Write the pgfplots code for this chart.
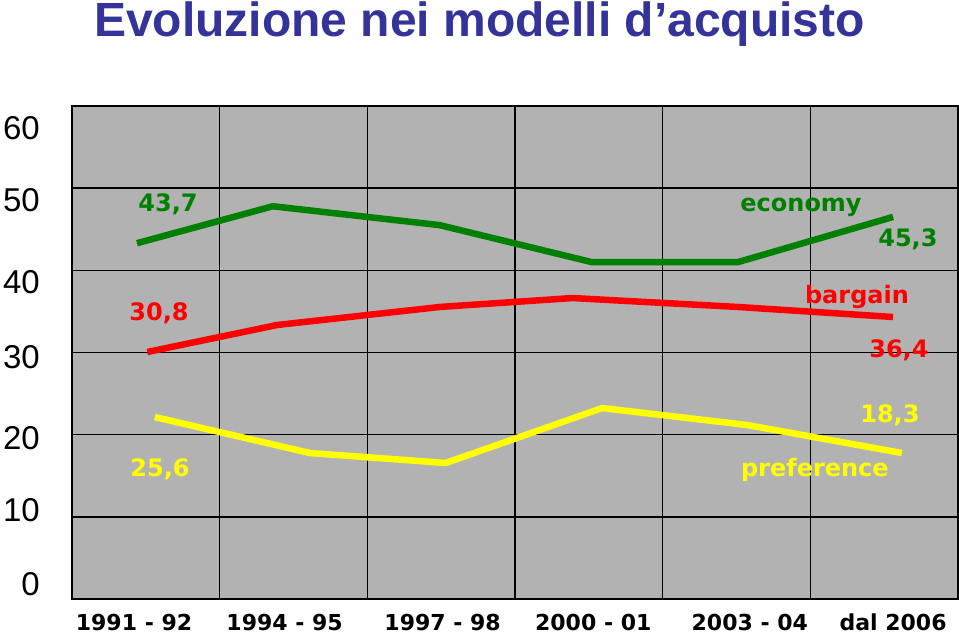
\documentclass[border=0pt]{standalone}
\usepackage{pgfplots}
\pgfplotsset{compat=1.18}
\usepackage{fontspec}
\setmainfont{DejaVu Sans}
\newfontfamily\arialfont{Liberation Sans}
\usepackage{graphicx}
\definecolor{bggray}{RGB}{178,178,178}
\definecolor{ecogreen}{RGB}{0,128,0}
\definecolor{bargred}{RGB}{255,0,0}
\definecolor{prefyellow}{RGB}{255,255,0}
\definecolor{titleblue}{RGB}{51,51,153}
\newcommand{\lbl}{\bfseries\fontsize{24bp}{28bp}\selectfont}
\begin{document}
\begin{tikzpicture}
\begin{axis}[
  at={(0,0)}, anchor=south west,
  scale only axis, width=886bp, height=493bp,
  xmin=0, xmax=6, ymin=0, ymax=60,
  axis background/.style={fill=bggray},
  axis line style={black, line width=1.6bp},
  xtick={0.42,1.44,2.51,3.53,4.59,5.56},
  xticklabels={1991 - 92,1994 - 95,1997 - 98,2000 - 01,2003 - 04,dal 2006},
  minor xtick={1,2,3,4,5},
  ytick={1.83,10.8,19.6,29.45,38.6,48.6,57.3},
  yticklabels={0,10,20,30,40,50,60},
  minor ytick={10,20,30,40,50},
  grid=minor,
  minor grid style={black, line width=1.6bp},
  major tick length=0pt, minor tick length=0pt,
  tick style={draw=none},
  xticklabel style={font=\bfseries\fontsize{22bp}{26bp}\selectfont, anchor=base, inner sep=0pt, yshift=-31bp, text=black},
  yticklabel style={font=\arialfont\fontsize{33bp}{38bp}\selectfont, anchor=east, inner sep=0pt, xshift=-32bp, text=black},
  clip=false,
]
\addplot[ecogreen, line width=6.5bp, line join=round] coordinates {
 (0.44,43.3) (1.36,47.8) (2.49,45.5) (3.52,41.0) (4.51,41.0) (5.56,46.5)};
\addplot[bargred, line width=6.5bp, line join=round] coordinates {
 (0.51,30.06) (1.39,33.35) (2.49,35.54) (3.39,36.63) (4.51,35.54) (5.56,34.32)};
\addplot[prefyellow, line width=6.5bp, line join=round] coordinates {
 (0.56,22.15) (1.61,17.77) (2.53,16.55) (3.59,23.24) (4.57,21.18) (5.62,17.77)};
\node[anchor=base, text=ecogreen, font=\lbl, inner sep=0pt] at (axis cs:0.650,47.22) {43,7};
\node[anchor=base, text=bargred, font=\lbl, inner sep=0pt] at (axis cs:0.589,33.95) {30,8};
\node[anchor=base, text=prefyellow, font=\lbl, inner sep=0pt] at (axis cs:0.596,14.85) {25,6};
\node[anchor=base, text=ecogreen, font=\lbl, inner sep=0pt] at (axis cs:4.937,47.10) {economy};
\node[anchor=base, text=ecogreen, font=\lbl, inner sep=0pt] at (axis cs:5.661,42.84) {45,3};
\node[anchor=base, text=bargred, font=\lbl, inner sep=0pt] at (axis cs:5.316,36.02) {bargain};
\node[anchor=base, text=bargred, font=\lbl, inner sep=0pt] at (axis cs:5.600,29.45) {36,4};
\node[anchor=base, text=prefyellow, font=\lbl, inner sep=0pt] at (axis cs:5.539,21.42) {18,3};
\node[anchor=base, text=prefyellow, font=\lbl, inner sep=0pt] at (axis cs:5.031,14.85) {preference};
\end{axis}
\node[anchor=base, inner sep=0pt, text=titleblue, font=\arialfont\bfseries\fontsize{48bp}{56bp}\selectfont] at (407.5bp,562bp) {Evoluzione nei modelli d’acquisto};
\pgfresetboundingbox
\path[use as bounding box] (-72bp,-36bp) rectangle (887bp,599bp);
\end{tikzpicture}
\end{document}
